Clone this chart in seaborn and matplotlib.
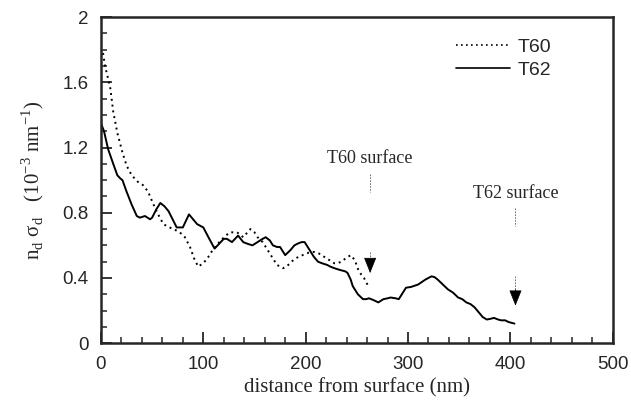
import matplotlib
matplotlib.use('Agg')
import matplotlib.pyplot as plt
import seaborn as sns
import pandas as pd
import numpy as np
from matplotlib.ticker import MultipleLocator

# T60 (dotted) profile
t60_x = [2, 4, 9, 12, 16, 21, 25, 30, 36, 41, 46, 50, 55, 61, 67, 71, 77, 82, 87, 91,
         95, 100, 105, 109, 113, 117, 122, 126, 133, 139, 146, 150, 153, 158, 163, 168,
         172, 178, 183, 188, 193, 197, 203, 208, 213, 218, 223, 228, 231, 235, 239, 244,
         248, 252, 257, 262]
t60_y = [1.78, 1.70, 1.57, 1.42, 1.29, 1.17, 1.09, 1.03, 0.99, 0.97, 0.93, 0.87, 0.80,
         0.73, 0.71, 0.70, 0.68, 0.65, 0.59, 0.52, 0.47, 0.49, 0.53, 0.57, 0.60, 0.63,
         0.66, 0.68, 0.68, 0.65, 0.70, 0.68, 0.65, 0.62, 0.57, 0.52, 0.48, 0.46, 0.48,
         0.51, 0.53, 0.54, 0.555, 0.56, 0.55, 0.53, 0.51, 0.49, 0.49, 0.50, 0.52, 0.54,
         0.51, 0.44, 0.40, 0.34]

# T62 (solid) profile
t62_x = [0, 3, 7, 12, 16, 19, 21, 25, 30, 35, 38, 43, 48, 50, 54, 58, 62, 66, 70, 74,
         80, 83, 86, 90, 94, 100, 105, 111, 114, 117, 120, 123, 128, 131, 134, 139, 143,
         148, 153, 158, 161, 165, 168, 172, 175, 180, 185, 189, 192, 196, 199, 202, 205,
         208, 212, 216, 221, 224, 228, 233, 239, 241, 244, 246, 249, 251, 256, 259, 262,
         266, 271, 276, 280, 283, 288, 291, 294, 298, 303, 310, 317, 323, 326, 329, 334,
         339, 344, 349, 353, 357, 361, 365, 369, 373, 377, 381, 384, 388, 391, 395, 398,
         401, 404]
t62_y = [1.35, 1.30, 1.19, 1.10, 1.03, 1.01, 1.00, 0.93, 0.85, 0.78, 0.77, 0.78, 0.76,
         0.77, 0.82, 0.86, 0.84, 0.81, 0.76, 0.71, 0.71, 0.75, 0.79, 0.76, 0.73, 0.71,
         0.65, 0.58, 0.60, 0.62, 0.64, 0.64, 0.62, 0.64, 0.66, 0.62, 0.61, 0.60, 0.62,
         0.64, 0.65, 0.63, 0.60, 0.59, 0.59, 0.54, 0.57, 0.60, 0.61, 0.62, 0.62, 0.59,
         0.56, 0.53, 0.50, 0.49, 0.48, 0.47, 0.46, 0.45, 0.44, 0.43, 0.39, 0.35, 0.32,
         0.30, 0.27, 0.27, 0.275, 0.265, 0.25, 0.27, 0.275, 0.28, 0.275, 0.27, 0.30,
         0.34, 0.345, 0.36, 0.39, 0.41, 0.405, 0.39, 0.36, 0.33, 0.31, 0.28, 0.27, 0.25,
         0.24, 0.22, 0.19, 0.16, 0.145, 0.15, 0.155, 0.145, 0.14, 0.14, 0.13, 0.125, 0.12]

# surface markers: label, x position, label height, arrow top / tip, stem top
surf_labels = ['T60 surface', 'T62 surface']
surf_x = [263, 405]
surf_text_y = [1.13, 0.92]
surf_head_top = [0.51, 0.33]
surf_tip = [0.43, 0.23]
surf_stem_top = [0.56, 0.41]

df = pd.concat([
    pd.DataFrame({'x': t60_x, 'y': t60_y, 'sample': 'T60'}),
    pd.DataFrame({'x': t62_x, 'y': t62_y, 'sample': 'T62'}),
])

sns.set_style('ticks')
plt.rcParams['font.family'] = ['Liberation Sans', 'DejaVu Sans']
plt.rcParams['mathtext.fontset'] = 'custom'
plt.rcParams['mathtext.rm'] = 'Liberation Serif'

fig = plt.figure(figsize=(6.31, 4.09), dpi=100)
ax = fig.add_axes([0.160, 0.161, 0.811, 0.797])

sns.lineplot(data=df, x='x', y='y', hue='sample', style='sample',
             palette={'T60': 'black', 'T62': 'black'},
             dashes={'T60': (1, 2), 'T62': ''}, linewidth=1.4, sort=False,
             estimator=None, ax=ax)

serif = ['Liberation Serif', 'DejaVu Serif']
for lab, xs, ty, ht, tip, st in zip(surf_labels, surf_x, surf_text_y, surf_head_top,
                                    surf_tip, surf_stem_top):
    ax.text(xs, ty, lab, ha='center', va='center', fontsize=13, family=serif)
    ax.plot([xs, xs], [ty - 0.09, ty - 0.2], ls=(0, (2, 1.5)), lw=0.6, color='0.35')
    ax.plot([xs, xs], [st, ht], ls=(0, (2, 1.5)), lw=0.6, color='0.35')
    ax.annotate('', xy=(xs, tip), xytext=(xs, ht),
                arrowprops=dict(arrowstyle='-|>,head_length=1.0,head_width=0.4',
                                mutation_scale=10, color='black', lw=0.5,
                                shrinkA=0, shrinkB=0))

ax.set_xlim(0, 500)
ax.set_ylim(0, 2)
ax.xaxis.set_major_locator(MultipleLocator(100))
ax.xaxis.set_minor_locator(MultipleLocator(20))
ax.yaxis.set_major_locator(MultipleLocator(0.4))
ax.yaxis.set_minor_locator(MultipleLocator(0.1))
ax.set_yticks([0, 0.4, 0.8, 1.2, 1.6, 2])
ax.set_yticklabels(['0', '0.4', '0.8', '1.2', '1.6', '2'])
ax.tick_params(which='major', direction='in', length=8, width=1.3, labelsize=13.5, pad=9)
ax.tick_params(which='minor', direction='in', length=4.5, width=1.1)
for sp in ax.spines.values():
    sp.set_linewidth(1.8)

ax.set_xlabel('distance from surface (nm)', fontsize=15, family=serif, labelpad=4)
ax.set_ylabel('n$_\\mathrm{d}$ σ$_\\mathrm{d}$   (10$^{-3}$ nm$^{-1}$)',
              fontsize=15, family=serif, labelpad=12)

leg = ax.legend(loc='upper right', frameon=False, fontsize=14, handlelength=2.8,
                handletextpad=0.4, labelspacing=0.3, bbox_to_anchor=(0.915, 0.99))
for line in leg.get_lines():
    line.set_linewidth(1.2)

fig.savefig('out.png', dpi=100)
